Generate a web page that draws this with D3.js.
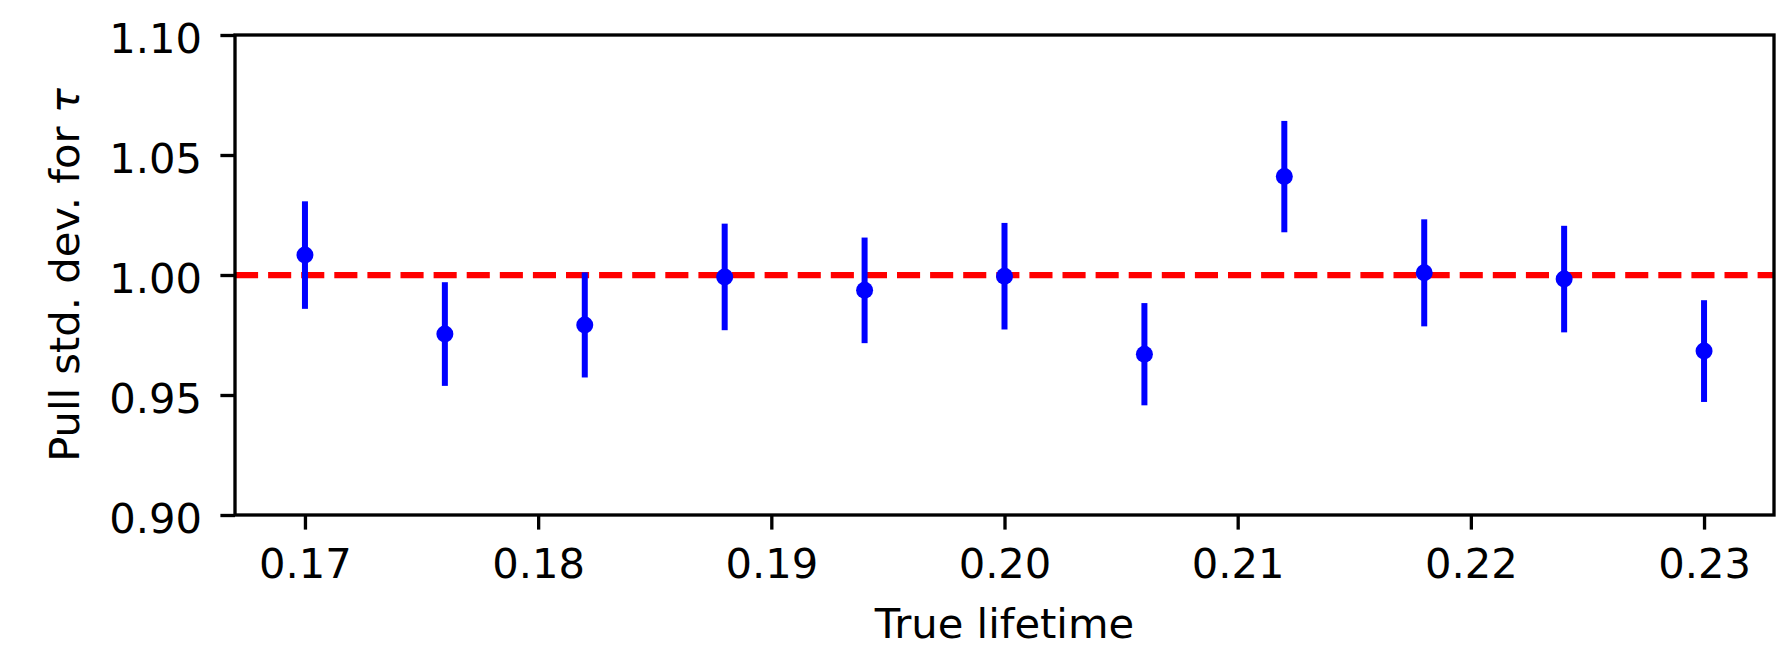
<!DOCTYPE html>
<html>
<head>
<meta charset="utf-8">
<script src="https://cdn.jsdelivr.net/npm/d3@7"></script>
<style>
  body { margin: 0; background: #fff; }
  svg { display: block; font-family: "DejaVu Sans", sans-serif; }
</style>
</head>
<body>
<div id="viz-container"></div>
<script>
// values
let trueLifetime = [0.170, 0.176, 0.182, 0.188, 0.194, 0.200, 0.206, 0.212, 0.218, 0.224, 0.230];
let pullStd = [1.0083, 0.9754, 0.9792, 0.9992, 0.9936, 0.9995, 0.9670, 1.0410, 1.0009, 0.9983, 0.9683];
let pullErr = [0.0224, 0.0216, 0.0219, 0.0222, 0.0220, 0.0222, 0.0213, 0.0232, 0.0223, 0.0222, 0.0212];
let xTicks = [0.17, 0.18, 0.19, 0.20, 0.21, 0.22, 0.23];
let yTicks = [0.90, 0.95, 1.00, 1.05, 1.10];
let refLine = 1.0;

let w = 1782;
let h = 647;
let xLeft = 235, xRight = 1774, yTop = 35, yBottom = 515;
let fontSize = 41.67;

let points = trueLifetime.map(function(t, i){
  return {x: t, y: pullStd[i], e: pullErr[i]};
});

let viz = d3.select("#viz-container")
  .append("svg")
  .attr("width", w)
  .attr("height", h);

let xScale = d3.scaleLinear().domain([0.167, 0.233]).range([xLeft, xRight]);
let yScale = d3.scaleLinear().domain([0.90, 1.10]).range([yBottom, yTop]);

// axes
let xAxis = d3.axisBottom(xScale).tickValues(xTicks).tickFormat(d3.format(".2f"))
  .tickSize(14.6).tickPadding(14.6);
let xAxisGroup = viz.append("g")
  .attr("transform", "translate(0," + yBottom + ")")
  .call(xAxis);

let yAxis = d3.axisLeft(yScale).tickValues(yTicks).tickFormat(d3.format(".2f"))
  .tickSize(14.6).tickPadding(14.6);
let yAxisGroup = viz.append("g")
  .attr("transform", "translate(" + xLeft + ",0)")
  .call(yAxis);

[xAxisGroup, yAxisGroup].forEach(function(g){
  g.select(".domain").remove();
  g.selectAll(".tick line").attr("stroke", "black").attr("stroke-width", 3.33);
  g.selectAll(".tick text")
    .attr("fill", "black")
    .attr("font-size", fontSize)
    .attr("font-family", "DejaVu Sans");
});
xAxisGroup.selectAll(".tick text").attr("y", 63).attr("dy", 0);
yAxisGroup.selectAll(".tick text").attr("dy", 0).attr("y", 17.5).attr("x", -33);

// reference line at 1
viz.append("line")
  .attr("x1", xLeft)
  .attr("x2", xRight)
  .attr("y1", yScale(refLine))
  .attr("y2", yScale(refLine))
  .attr("stroke", "#ff0000")
  .attr("stroke-width", 6.25)
  .attr("stroke-dasharray", "23.1,10");

// error bars
let datagroup = viz.selectAll(".datagroup").data(points).enter()
  .append("g")
  .attr("class", "datagroup");

datagroup.append("line")
  .attr("x1", function(d){ return xScale(d.x); })
  .attr("x2", function(d){ return xScale(d.x); })
  .attr("y1", function(d){ return yScale(d.y - d.e); })
  .attr("y2", function(d){ return yScale(d.y + d.e); })
  .attr("stroke", "#0000ff")
  .attr("stroke-width", 6);

datagroup.append("circle")
  .attr("cx", function(d){ return xScale(d.x); })
  .attr("cy", function(d){ return yScale(d.y); })
  .attr("r", 8.5)
  .attr("fill", "#0000ff");

// frame
viz.append("rect")
  .attr("x", xLeft)
  .attr("y", yTop)
  .attr("width", xRight - xLeft)
  .attr("height", yBottom - yTop)
  .attr("fill", "none")
  .attr("stroke", "black")
  .attr("stroke-width", 3.33);

// labels
viz.append("text")
  .attr("x", (xLeft + xRight) / 2)
  .attr("y", 638)
  .attr("text-anchor", "middle")
  .attr("font-size", fontSize)
  .attr("fill", "black")
  .text("True lifetime");

let yLabel = viz.append("text")
  .attr("transform", "translate(79," + (yTop + yBottom) / 2 + ") rotate(-90)")
  .attr("text-anchor", "middle")
  .attr("font-size", fontSize)
  .attr("fill", "black");
yLabel.append("tspan").text("Pull std. dev. for ");
yLabel.append("tspan").attr("font-style", "italic").text("τ");
</script>
</body>
</html>
